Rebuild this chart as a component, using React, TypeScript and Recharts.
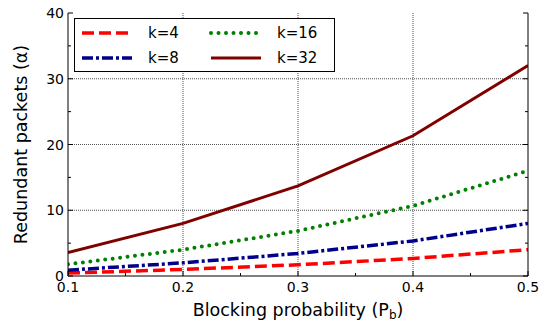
import { LineChart, Line, XAxis, YAxis, ReferenceLine, Label } from 'recharts'

const probabilities = [0.1, 0.2, 0.3, 0.4, 0.5]
const k4 = [0.44, 1.0, 1.71, 2.67, 4.0]
const k8 = [0.89, 2.0, 3.43, 5.33, 8.0]
const k16 = [1.78, 4.0, 6.86, 10.67, 16.0]
const k32 = [3.56, 8.0, 13.71, 21.33, 32.0]

const xMajor = [0.1, 0.2, 0.3, 0.4, 0.5]
const xMinor = [0.15, 0.25, 0.35, 0.45]
const yMajor = [0, 10, 20, 30, 40]
const yMinor = [5, 15, 25, 35]
const xGrid = [0.2, 0.3, 0.4]
const yGrid = [10, 20, 30]

const FONT = 'DejaVu Sans, Verdana, sans-serif'

const series = [
  { key: 'k4', name: 'k=4', color: '#ff0000', dash: '12 5', width: 3.5, cap: 'butt' },
  { key: 'k8', name: 'k=8', color: '#00008b', dash: '11 3 3 3', width: 3.5, cap: 'butt' },
  { key: 'k16', name: 'k=16', color: '#008000', dash: '0 7.5', width: 4, cap: 'round' },
  { key: 'k32', name: 'k=32', color: '#800000', dash: undefined, width: 3, cap: 'butt' },
] as const

const data = probabilities.map((p, i) => ({ p, k4: k4[i], k8: k8[i], k16: k16[i], k32: k32[i] }))

const allX = [...xMajor, ...xMinor].sort((a, b) => a - b)
const allY = [...yMajor, ...yMinor].sort((a, b) => a - b)

const MAJOR = 5
const MINOR = 3

function BottomTick({ x, y, payload }: any) {
  const major = xMajor.includes(payload.value)
  return (
    <g>
      <line x1={x} y1={y} x2={x} y2={y - (major ? MAJOR : MINOR)} stroke="#000" />
      {major && (
        <text x={x} y={y + 16} textAnchor="middle" fontSize={14} fontFamily={FONT} fill="#000">
          {payload.value.toFixed(1)}
        </text>
      )}
    </g>
  )
}

function TopTick({ x, y, payload }: any) {
  const major = xMajor.includes(payload.value)
  return <line x1={x} y1={y} x2={x} y2={y + (major ? MAJOR : MINOR)} stroke="#000" />
}

function LeftTick({ x, y, payload }: any) {
  const major = yMajor.includes(payload.value)
  return (
    <g>
      <line x1={x} y1={y} x2={x + (major ? MAJOR : MINOR)} y2={y} stroke="#000" />
      {major && (
        <text x={x - 4} y={y} textAnchor="end" dominantBaseline="central" fontSize={14} fontFamily={FONT} fill="#000">
          {payload.value}
        </text>
      )}
    </g>
  )
}

function RightTick({ x, y, payload }: any) {
  const major = yMajor.includes(payload.value)
  return <line x1={x} y1={y} x2={x - (major ? MAJOR : MINOR)} y2={y} stroke="#000" />
}

function XTitle({ viewBox }: any) {
  const { x, y, width } = viewBox
  return (
    <text x={x + width / 2} y={y + 40} textAnchor="middle" fontSize={17.5} fontFamily={FONT} fill="#000">
      Blocking probability (P
      <tspan fontSize={12} dy={3}>b</tspan>
      <tspan dy={-3}>)</tspan>
    </text>
  )
}

function YTitle({ viewBox }: any) {
  const { y, height } = viewBox
  const cx = 21
  const cy = y + height / 2
  return (
    <text
      x={cx}
      y={cy}
      transform={`rotate(-90 ${cx} ${cy})`}
      textAnchor="middle"
      dominantBaseline="central"
      fontSize={17.5}
      fontFamily={FONT}
      fill="#000"
    >
      Redundant packets (α)
    </text>
  )
}

function LegendBox() {
  return (
    <div
      style={{
        position: 'absolute',
        left: 74,
        top: 18,
        width: 261,
        height: 54,
        border: '1px solid #000',
        background: '#fff',
        boxSizing: 'border-box',
      }}
    >
      <svg width={259} height={52} style={{ display: 'block' }}>
        {series.map((s, i) => {
          const col = Math.floor(i / 2)
          const row = i % 2
          const x0 = col === 0 ? 7 : 136
          const y0 = row === 0 ? 14 : 39
          return (
            <g key={s.key}>
              <line
                x1={x0}
                y1={y0}
                x2={x0 + 50}
                y2={y0}
                stroke={s.color}
                strokeWidth={s.width}
                strokeDasharray={s.dash}
                strokeLinecap={s.cap}
              />
              <text x={x0 + 66} y={y0} dominantBaseline="central" fontSize={15} fontFamily={FONT} fill="#000">
                {s.name}
              </text>
            </g>
          )
        })}
      </svg>
    </div>
  )
}

export default function App() {
  return (
    <div style={{ position: 'absolute', left: 0, top: 0, width: 546, height: 322, background: '#fff' }}>
      <LineChart width={546} height={322} data={data} margin={{ top: 13, right: 0, bottom: 0, left: 0 }}>
        <XAxis
          xAxisId="bottom"
          dataKey="p"
          type="number"
          domain={[0.1, 0.5]}
          ticks={allX}
          interval={0}
          height={46}
          tickSize={0}
          tickMargin={0}
          tick={<BottomTick />}
          axisLine={{ stroke: '#000' }}
          allowDataOverflow
        >
          <Label content={<XTitle />} />
        </XAxis>
        <XAxis
          xAxisId="top"
          orientation="top"
          dataKey="p"
          type="number"
          domain={[0.1, 0.5]}
          ticks={allX}
          interval={0}
          height={0}
          tickSize={0}
          tickMargin={0}
          tick={<TopTick />}
          axisLine={{ stroke: '#000' }}
          allowDataOverflow
        />
        <YAxis
          yAxisId="left"
          type="number"
          domain={[0, 40]}
          ticks={allY}
          interval={0}
          width={68}
          tickSize={0}
          tickMargin={0}
          tick={<LeftTick />}
          axisLine={{ stroke: '#000' }}
          allowDataOverflow
        >
          <Label content={<YTitle />} />
        </YAxis>
        <YAxis
          yAxisId="right"
          orientation="right"
          type="number"
          domain={[0, 40]}
          ticks={allY}
          interval={0}
          width={18}
          tickSize={0}
          tickMargin={0}
          tick={<RightTick />}
          axisLine={{ stroke: '#000' }}
          allowDataOverflow
        />
        {xGrid.map((v) => (
          <ReferenceLine key={`gx${v}`} x={v} xAxisId="bottom" yAxisId="left" stroke="#222" strokeWidth={0.8} strokeDasharray="1 1" />
        ))}
        {yGrid.map((v) => (
          <ReferenceLine key={`gy${v}`} y={v} xAxisId="bottom" yAxisId="left" stroke="#222" strokeWidth={0.8} strokeDasharray="1 1" />
        ))}
        {series.map((s) => (
          <Line
            key={s.key}
            xAxisId="bottom"
            yAxisId="left"
            type="linear"
            dataKey={s.key}
            name={s.name}
            stroke={s.color}
            strokeWidth={s.width}
            strokeDasharray={s.dash}
            strokeLinecap={s.cap}
            dot={false}
            activeDot={false}
            isAnimationActive={false}
          />
        ))}
      </LineChart>
      <LegendBox />
    </div>
  )
}
